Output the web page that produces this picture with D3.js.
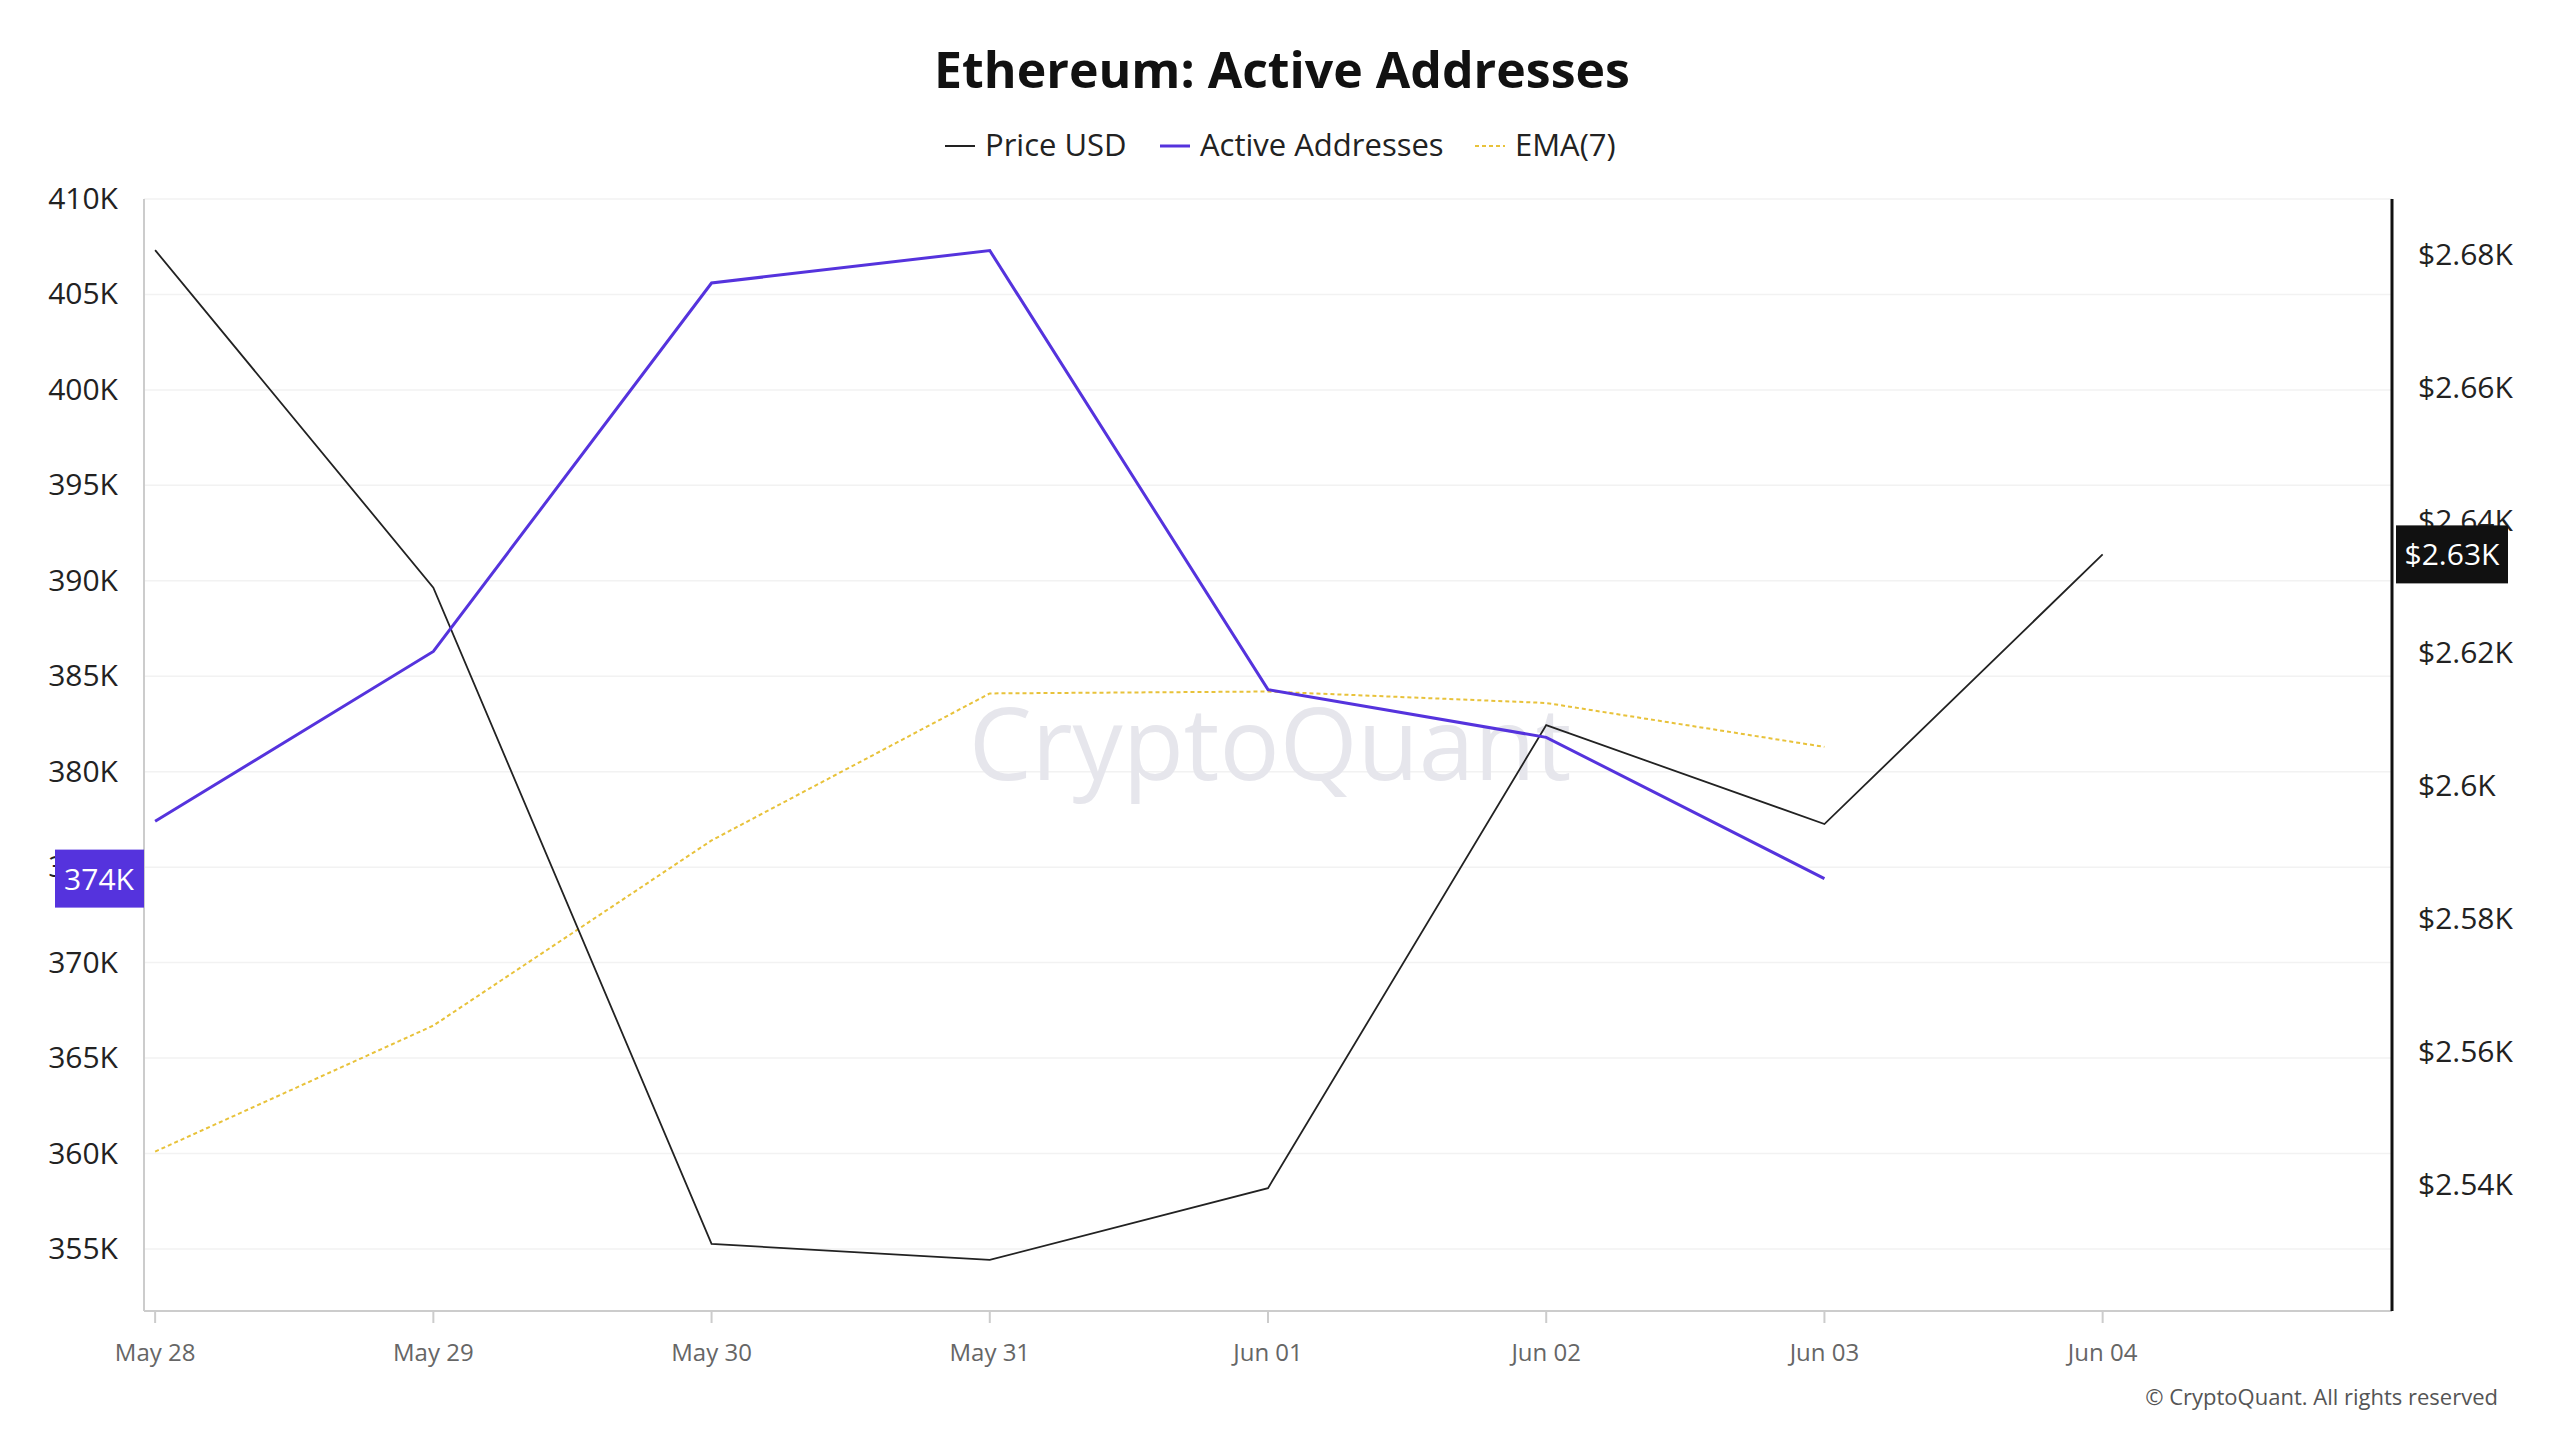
<!DOCTYPE html>
<html><head><meta charset="utf-8">
<script src="https://cdn.jsdelivr.net/npm/d3@7"></script>
<style>body{margin:0;background:#fff;font-family:"Open Sans",sans-serif}</style>
</head><body><svg id="c" width="2560" height="1440"></svg>
<script>
const dates=["May 28","May 29","May 30","May 31","Jun 01","Jun 02","Jun 03","Jun 04"];
const priceUSD=[2680.7,2629.9,2531.1,2528.7,2539.5,2609.2,2594.3,2634.9];
const activeAddresses=[377400,386300,405600,407300,384300,381800,374400];
const ema7=[360100,366700,376400,384100,384200,383600,381300];
const leftTicks=[355000,360000,365000,370000,375000,380000,385000,390000,395000,400000,405000,410000];
const rightTicks=[2540,2560,2580,2600,2620,2640,2660,2680];

const svg=d3.select("#c");
const L=144,R=2392,T=199,B=1311;
const x=d3.scaleLinear().domain([-0.04,8.04]).range([L,R]);
const y=d3.scaleLinear().domain([351750,410000]).range([B,T]);
const y2=d3.scaleLinear().domain([2521,2688.4]).range([B,T]);

svg.append("g").selectAll("line").data(leftTicks).join("line")
 .attr("x1",L).attr("x2",R).attr("y1",d=>y(d)).attr("y2",d=>y(d)).attr("stroke","#f2f2f2").attr("stroke-width",1.5);
svg.append("line").attr("x1",L).attr("x2",L).attr("y1",T).attr("y2",B).attr("stroke","#ccc").attr("stroke-width",2);
svg.append("line").attr("x1",L).attr("x2",R).attr("y1",B).attr("y2",B).attr("stroke","#ccc").attr("stroke-width",2);
svg.append("line").attr("x1",R).attr("x2",R).attr("y1",T).attr("y2",B).attr("stroke","#111").attr("stroke-width",3);

svg.append("g").selectAll("text").data(leftTicks).join("text")
 .attr("x",118).attr("y",d=>y(d)+10).attr("text-anchor","end").attr("font-size",30).attr("fill","#222")
 .text(d=>d/1000+"K");
svg.append("g").selectAll("text").data(rightTicks).join("text")
 .attr("x",2418).attr("y",d=>y2(d)+10).attr("font-size",30).attr("fill","#222")
 .text(d=>"$"+(d/1000).toFixed(2).replace(/0$/,"")+"K");
const xg=svg.append("g");
xg.selectAll("line").data(dates).join("line").attr("x1",(d,i)=>x(i)).attr("x2",(d,i)=>x(i)).attr("y1",B).attr("y2",B+12).attr("stroke","#ccc").attr("stroke-width",2);
xg.selectAll("text").data(dates).join("text").attr("x",(d,i)=>x(i)).attr("y",B+50).attr("text-anchor","middle").attr("font-size",24).attr("fill","#666").text(d=>d);

svg.append("text").attr("x",1270).attr("y",780).attr("text-anchor","middle").attr("font-size",100).attr("fill","#e6e6ec").attr("font-weight",500).text("CryptoQuant");

const line=d3.line().x((d,i)=>x(i));
svg.append("path").datum(ema7).attr("d",line.y(d=>y(d))).attr("fill","none").attr("stroke","#e8c23a").attr("stroke-width",2).attr("stroke-dasharray","4,3");
svg.append("path").datum(priceUSD).attr("d",d3.line().x((d,i)=>x(i)).y(d=>y2(d))).attr("fill","none").attr("stroke","#222").attr("stroke-width",1.8);
svg.append("path").datum(activeAddresses).attr("d",d3.line().x((d,i)=>x(i)).y(d=>y(d))).attr("fill","none").attr("stroke","#5533dd").attr("stroke-width",3);

const la=activeAddresses[activeAddresses.length-1];
svg.append("rect").attr("x",55).attr("y",y(la)-29).attr("width",89).attr("height",58).attr("fill","#5533dd");
svg.append("text").attr("x",99).attr("y",y(la)+11).attr("text-anchor","middle").attr("font-size",30).attr("fill","#fff").text(Math.round(la/1000)+"K");
const lp=priceUSD[priceUSD.length-1];
svg.append("rect").attr("x",2396).attr("y",y2(lp)-29).attr("width",112).attr("height",58).attr("fill","#111");
svg.append("text").attr("x",2452).attr("y",y2(lp)+11).attr("text-anchor","middle").attr("font-size",30).attr("fill","#fff").text("$"+(Math.floor(lp/10)/100).toFixed(2)+"K");

svg.append("text").attr("x",1282).attr("y",88).attr("text-anchor","middle").attr("font-size",50).attr("font-weight",700).attr("fill","#111").text("Ethereum: Active Addresses");
const leg=[["Price USD","#222",null,945],["Active Addresses","#5533dd",null,1160],["EMA(7)","#e8c23a","4,3",1475]];
leg.forEach(([t,c,da,lx])=>{
 svg.append("line").attr("x1",lx).attr("x2",lx+30).attr("y1",146).attr("y2",146).attr("stroke",c).attr("stroke-width",t==="Active Addresses"?3:2).attr("stroke-dasharray",da);
 svg.append("text").attr("x",lx+40).attr("y",156).attr("font-size",31).attr("fill","#222").text(t);
});
svg.append("text").attr("x",2498).attr("y",1405).attr("text-anchor","end").attr("font-size",22).attr("fill","#555").text("© CryptoQuant. All rights reserved");
</script></body></html>
